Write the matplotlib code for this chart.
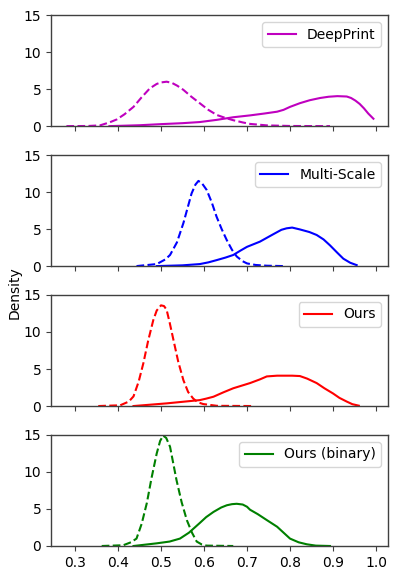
import matplotlib
matplotlib.use("Agg")
from matplotlib import pyplot as plt

# score values (x) and density (y)
names = ["DeepPrint", "Multi-Scale", "Ours", "Ours (binary)"]
colors = ["m", "b", "r", "g"]

# genuine (solid)
deep_gen_x = [0.38, 0.45, 0.50, 0.55, 0.59, 0.63, 0.668, 0.707, 0.74, 0.77, 0.785, 0.80, 0.823, 0.846, 0.87, 0.89, 0.91, 0.932, 0.942, 0.952, 0.962, 0.972, 0.982, 0.994]
deep_gen_y = [0.0, 0.12, 0.27, 0.4, 0.55, 0.85, 1.2, 1.45, 1.7, 1.95, 2.2, 2.6, 3.1, 3.5, 3.8, 3.97, 4.05, 4.0, 3.8, 3.45, 3.0, 2.4, 1.7, 1.0]
ms_gen_x = [0.49, 0.55, 0.59, 0.61, 0.629, 0.65, 0.668, 0.685, 0.70, 0.73, 0.761, 0.78, 0.792, 0.805, 0.823, 0.845, 0.862, 0.878, 0.893, 0.91, 0.924, 0.94, 0.955]
ms_gen_y = [0.0, 0.1, 0.27, 0.5, 0.8, 1.15, 1.5, 2.1, 2.6, 3.3, 4.3, 4.9, 5.1, 5.2, 4.95, 4.6, 4.2, 3.6, 2.8, 1.8, 1.0, 0.45, 0.13]
ours_gen_x = [0.436, 0.513, 0.59, 0.605, 0.622, 0.645, 0.668, 0.707, 0.73, 0.746, 0.77, 0.785, 0.805, 0.823, 0.84, 0.862, 0.88, 0.90, 0.915, 0.932, 0.945, 0.96]
ours_gen_y = [0.0, 0.36, 0.8, 1.0, 1.26, 1.85, 2.4, 3.1, 3.6, 4.0, 4.1, 4.1, 4.1, 4.05, 3.7, 3.1, 2.4, 1.7, 1.1, 0.6, 0.25, 0.05]
bin_gen_x = [0.436, 0.49, 0.52, 0.544, 0.565, 0.59, 0.605, 0.622, 0.64, 0.653, 0.665, 0.676, 0.69, 0.70, 0.707, 0.725, 0.746, 0.77, 0.785, 0.80, 0.82, 0.839, 0.86, 0.893]
bin_gen_y = [0.0, 0.36, 0.6, 1.0, 1.8, 3.1, 3.9, 4.6, 5.2, 5.5, 5.65, 5.7, 5.6, 5.3, 4.9, 4.3, 3.5, 2.6, 1.8, 1.0, 0.5, 0.23, 0.05, 0.0]

# impostor (dashed)
deep_imp_x = [0.28, 0.33, 0.358, 0.38, 0.397, 0.415, 0.436, 0.455, 0.474, 0.49, 0.50, 0.513, 0.525, 0.538, 0.552, 0.57, 0.59, 0.61, 0.63, 0.65, 0.668, 0.69, 0.707, 0.746, 0.80, 0.893]
deep_imp_y = [0.0, 0.02, 0.1, 0.5, 0.9, 1.6, 2.6, 3.9, 5.1, 5.7, 5.9, 6.0, 5.85, 5.45, 4.9, 4.0, 3.1, 2.2, 1.5, 1.1, 0.8, 0.5, 0.3, 0.1, 0.02, 0.0]
ms_imp_x = [0.443, 0.49, 0.51, 0.521, 0.537, 0.552, 0.562, 0.571, 0.58, 0.587, 0.595, 0.606, 0.618, 0.629, 0.641, 0.653, 0.665, 0.676, 0.69, 0.70, 0.72, 0.746, 0.785]
ms_imp_y = [0.0, 0.27, 0.9, 1.5, 3.2, 5.8, 7.9, 9.8, 11.0, 11.5, 11.2, 10.3, 8.6, 6.7, 5.0, 3.5, 2.2, 1.3, 0.65, 0.36, 0.15, 0.05, 0.0]
ours_imp_x = [0.354, 0.405, 0.425, 0.436, 0.448, 0.459, 0.47, 0.482, 0.49, 0.50, 0.507, 0.513, 0.52, 0.529, 0.54, 0.552, 0.563, 0.575, 0.586, 0.598, 0.63, 0.715]
ours_imp_y = [0.0, 0.1, 0.6, 1.3, 3.3, 5.8, 8.8, 11.6, 12.9, 13.6, 13.5, 13.0, 11.3, 8.9, 6.0, 3.5, 1.9, 1.0, 0.5, 0.27, 0.03, 0.0]
bin_imp_x = [0.362, 0.412, 0.43, 0.443, 0.455, 0.467, 0.478, 0.49, 0.498, 0.505, 0.512, 0.521, 0.528, 0.536, 0.548, 0.56, 0.572, 0.583, 0.595, 0.606, 0.668]
bin_imp_y = [0.0, 0.1, 0.5, 1.0, 3.0, 5.8, 9.2, 12.5, 14.2, 14.9, 14.6, 13.4, 11.3, 8.9, 5.9, 3.5, 1.8, 0.6, 0.2, 0.05, 0.0]

gen = [(deep_gen_x, deep_gen_y), (ms_gen_x, ms_gen_y), (ours_gen_x, ours_gen_y), (bin_gen_x, bin_gen_y)]
imp = [(deep_imp_x, deep_imp_y), (ms_imp_x, ms_imp_y), (ours_imp_x, ours_imp_y), (bin_imp_x, bin_imp_y)]

fig, axes = plt.subplots(4, 1, figsize=(3.98, 5.79), dpi=100, sharex=True)
fig.subplots_adjust(left=0.128, right=0.975, top=0.974, bottom=0.057, hspace=0.26)

for ax, name, c, g, im in zip(axes, names, colors, gen, imp):
    ax.plot(g[0], g[1], color=c, lw=1.5, label=name)
    ax.plot(im[0], im[1], color=c, lw=1.5, ls="--")
    ax.set_ylim(0, 15)
    ax.set_yticks([0, 5, 10, 15])
    for s in ax.spines.values():
        s.set_color("0.25")
        s.set_linewidth(1.0)
    ax.tick_params(color="0.25")
    ax.legend(loc="upper right")

axes[-1].set_xlim(0.244, 1.028)
axes[-1].set_xticks([0.3, 0.4, 0.5, 0.6, 0.7, 0.8, 0.9, 1.0])
fig.text(0.038, 0.494, "Density", rotation=90, ha="center", va="center")

plt.savefig("out.png")
